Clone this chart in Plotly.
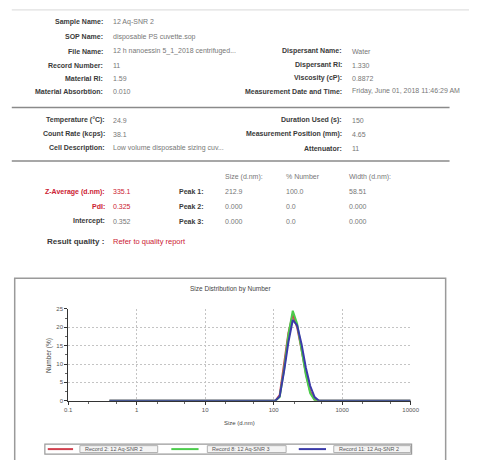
import plotly.graph_objects as go

W, H = 478, 460

# ---------------- data ----------------
sizes = [0.4, 0.4632, 0.5365, 0.6213, 0.7195, 0.8332, 0.9649, 1.117, 1.294, 1.499,
         1.736, 2.01, 2.328, 2.696, 3.122, 3.615, 4.187, 4.849, 5.615, 6.503,
         7.531, 8.721, 10.1, 11.7, 13.54, 15.69, 18.17, 21.04, 24.36, 28.21,
         32.67, 37.84, 43.82, 50.75, 58.77, 68.06, 78.82, 91.28,
         105.7, 122.4, 141.8, 164.2, 190.1, 220.2, 255.0, 295.3, 342.0, 396.1, 458.7,
         531.2, 615.1, 712.4, 825.0, 955.4, 1106, 1281, 1484, 1718, 1990,
         2305, 2669, 3091, 3580, 4145, 4801, 5560, 6439, 7456, 8635, 10000]

record2 = [0, 0, 0, 0, 0, 0, 0, 0, 0, 0, 0, 0, 0, 0, 0, 0, 0, 0, 0, 0,
           0, 0, 0, 0, 0, 0, 0, 0, 0, 0, 0, 0, 0, 0, 0, 0, 0, 0,
           0, 1.5, 10.0, 18.5, 23.5, 20.0, 14.0, 7.5, 2.5, 0.3, 0,
           0, 0, 0, 0, 0, 0, 0, 0, 0, 0, 0, 0, 0, 0, 0, 0, 0, 0, 0, 0, 0]
record8 = [0, 0, 0, 0, 0, 0, 0, 0, 0, 0, 0, 0, 0, 0, 0, 0, 0, 0, 0, 0,
           0, 0, 0, 0, 0, 0, 0, 0, 0, 0, 0, 0, 0, 0, 0, 0, 0, 0,
           0, 1.0, 8.5, 18.0, 24.5, 21.0, 14.0, 7.0, 2.0, 0.2, 0,
           0, 0, 0, 0, 0, 0, 0, 0, 0, 0, 0, 0, 0, 0, 0, 0, 0, 0, 0, 0, 0]
record11 = [0, 0, 0, 0, 0, 0, 0, 0, 0, 0, 0, 0, 0, 0, 0, 0, 0, 0, 0, 0,
            0, 0, 0, 0, 0, 0, 0, 0, 0, 0, 0, 0, 0, 0, 0, 0, 0, 0,
            0, 1.2, 8.0, 16.0, 22.0, 20.5, 15.5, 9.0, 4.0, 1.0, 0,
            0, 0, 0, 0, 0, 0, 0, 0, 0, 0, 0, 0, 0, 0, 0, 0, 0, 0, 0, 0, 0]

series_names = ["Record 2: 12 Aq-SNR 2", "Record 8: 12 Aq-SNR 3", "Record 11: 12 Aq-SNR 2"]
series_colors = ["#d0404e", "#4ccc4c", "#3a3aa8"]

x_ticks = [0.1, 1, 10, 100, 1000, 10000]
x_tick_labels = ["0.1", "1", "10", "100", "1000", "10000"]
y_ticks = [0, 5, 10, 15, 20, 25]

left_fields = [("Sample Name:", "12 Aq-SNR 2"),
               ("SOP Name:", "disposable PS cuvette.sop"),
               ("File Name:", "12 h nanoessin 5_1_2018 centrifuged..."),
               ("Record Number:", "11"),
               ("Material RI:", "1.59"),
               ("Material Absorbtion:", "0.010")]
right_fields = [("Dispersant Name:", "Water"),
                ("Dispersant RI:", "1.330"),
                ("Viscosity (cP):", "0.8872"),
                ("Measurement Date and Time:", "Friday, June 01, 2018 11:46:29 AM")]
cond_left = [("Temperature (°C):", "24.9"),
             ("Count Rate (kcps):", "38.1"),
             ("Cell Description:", "Low volume disposable sizing cuv...")]
cond_right = [("Duration Used (s):", "150"),
              ("Measurement Position (mm):", "4.65"),
              ("Attenuator:", "11")]
result_left = [("Z-Average (d.nm):", "335.1", True),
               ("PdI:", "0.325", True),
               ("Intercept:", "0.352", False)]
peak_header = ["Size (d.nm):", "% Number", "Width (d.nm):"]
peak_rows = [("Peak 1:", "212.9", "100.0", "58.51"),
             ("Peak 2:", "0.000", "0.0", "0.000"),
             ("Peak 3:", "0.000", "0.0", "0.000")]

# ---------------- helpers ----------------
FONT = "Liberation Sans, Arial, sans-serif"
LBL = "#3a3a3a"
VAL = "#777777"
RED = "#cc2233"


def px(x):
    return x / W


def py(y):
    return 1 - y / H


annotations = []
shapes = []


def text(x, y, s, anchor="left", color=VAL, size=7, bold=False):
    if bold:
        s = "<b>" + s + "</b>"
    annotations.append(dict(x=px(x), y=py(y), xref="paper", yref="paper", text=s,
                            showarrow=False, xanchor=anchor, yanchor="middle",
                            font=dict(family=FONT, size=size, color=color)))


def hline(x0, x1, y, color, width):
    shapes.append(dict(type="line", xref="paper", yref="paper", x0=px(x0), x1=px(x1),
                       y0=py(y), y1=py(y), line=dict(color=color, width=width)))


def rect(x0, x1, y0, y1, color, width, fill=None):
    d = dict(type="rect", xref="paper", yref="paper", x0=px(x0), x1=px(x1),
             y0=py(y0), y1=py(y1), line=dict(color=color, width=width))
    if fill:
        d["fillcolor"] = fill
    shapes.append(d)


# header block
rows_y = [19, 34, 49, 63, 76, 89.5]
for (lab, val), y in zip(left_fields, rows_y):
    text(104, y, lab, "right", LBL, bold=True)
    text(110, y, val)
for (lab, val), y in zip(right_fields, rows_y[2:]):
    text(350, y, lab, "right", LBL, bold=True)
    text(356, y, val)

cond_y = [119, 133, 147]
for (lab, val), y in zip(cond_left, cond_y):
    text(106, y, lab, "right", LBL, bold=True)
    text(110, y, val)
for (lab, val), y in zip(cond_right, cond_y):
    text(350, y, lab, "right", LBL, bold=True)
    text(356, y, val)

col_x = [225, 288, 353]
for h, x in zip(peak_header, col_x):
    text(x, 176, h)
res_y = [191, 206, 221]
for (lab, val, red), y in zip(result_left, res_y):
    text(106, y, lab, "right", RED if red else LBL, bold=True)
    text(110, y, val, color=RED if red else VAL)
for row, y in zip(peak_rows, res_y):
    text(208, y, row[0], "right", LBL, bold=True)
    for v, x in zip(row[1:], col_x):
        text(x, y, v)
text(42, 242, "Result quality :", "left", LBL, size=8, bold=True)
text(110, 242, "Refer to quality report", "left", RED, size=7.5)

# chart title / axis titles
text(233, 290, "Size Distribution by Number", "center", "#444", size=6.5)
text(242, 426, "Size (d.nm)", "center", "#444", size=6)
annotations.append(dict(x=px(47), y=py(357), xref="paper", yref="paper", text="Number (%)",
                        showarrow=False, textangle=-90, xanchor="center", yanchor="middle",
                        font=dict(family=FONT, size=6.5, color="#444")))

# separators and chart frame
hline(8, 478, 7, "#d8d8d8", 1)
hline(8, 458, 106, "#8a8a8a", 1.5)
hline(8, 458, 160, "#8a8a8a", 1.5)
rect(11, 454, 279, 480, "#9a9a9a", 1.5)

# legend (drawn manually so it matches the original compact layout)
rect(42, 419, 447, 457, "#9a9a9a", 1.2, fill="white")
leg_line_x = [(45, 71), (172, 200), (303, 331)]
leg_text_box = [(78, 158), (209, 290), (339, 418)]
for name, col, (l0, l1), (t0, t1) in zip(series_names, series_colors, leg_line_x, leg_text_box):
    hline(l0, l1, 452, col, 2)
    rect(t0, t1, 448.5, 455.5, "#b0b0b0", 1, fill="#f4f4f4")
    text(t0 + 3, 452, name, "left", "#555", size=5.5)

# ---------------- figure ----------------
fig = go.Figure()
for vals, name, col in zip([record2, record8, record11], series_names, series_colors):
    fig.add_trace(go.Scatter(x=sizes, y=vals, mode="lines", name=name,
                             line=dict(color=col, width=2)))

grid_dash = "2px,2px"
fig.update_layout(
    width=W, height=H,
    margin=dict(l=0, r=0, t=0, b=0),
    paper_bgcolor="white", plot_bgcolor="white",
    font=dict(family=FONT, size=6, color="#444"),
    annotations=annotations,
    shapes=shapes,
    showlegend=False,
    xaxis=dict(type="log", range=[-1, 4], domain=[px(66), px(418)],
               tickvals=x_ticks, ticktext=x_tick_labels,
               showgrid=True, gridcolor="#c4c4c4", griddash=grid_dash, gridwidth=1,
               showline=True, linecolor="#333", linewidth=1, layer="below traces",
               ticks="outside", ticklen=3, tickcolor="#333",
               minor=dict(ticks="outside", ticklen=2, tickcolor="#666", showgrid=False),
               tickfont=dict(size=6, color="#555"), zeroline=False, fixedrange=True),
    yaxis=dict(range=[0, 25], domain=[py(403), py(310)],
               tickvals=y_ticks,
               showgrid=True, gridcolor="#c4c4c4", griddash=grid_dash, gridwidth=1,
               showline=True, linecolor="#333", linewidth=1, layer="below traces",
               ticks="outside", ticklen=3, tickcolor="#333",
               minor=dict(ticks="outside", ticklen=2, dtick=2.5, tickcolor="#666", showgrid=False),
               tickfont=dict(size=6, color="#555"), zeroline=False, fixedrange=True),
)

fig.write_html("out.html")
